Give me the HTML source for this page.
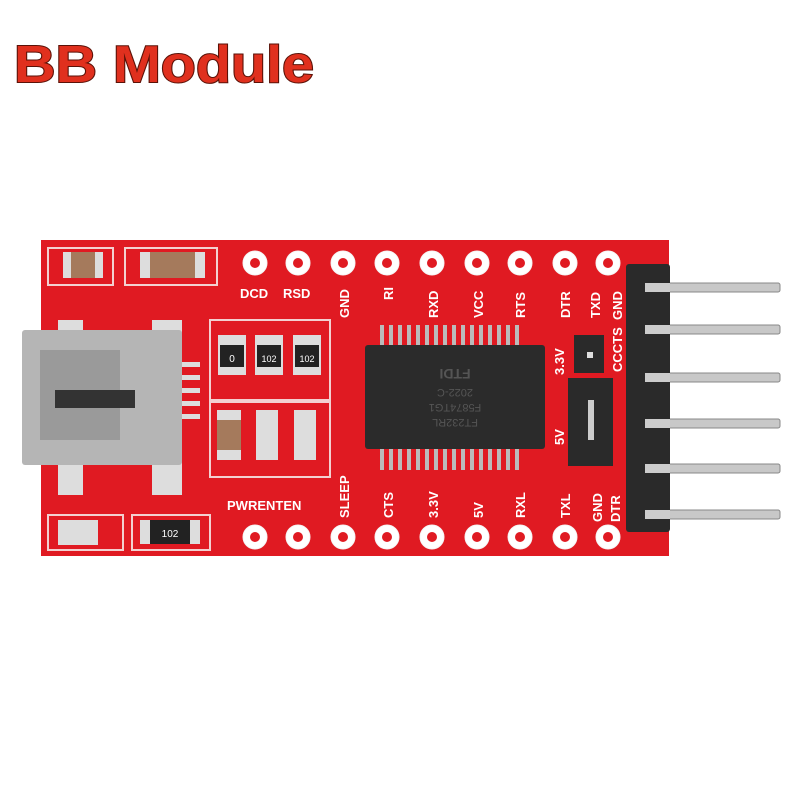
<!DOCTYPE html>
<html><head><style>
html,body{margin:0;padding:0;background:#fff;width:800px;height:800px;overflow:hidden}
</style></head><body>
<svg width="800" height="800" viewBox="0 0 800 800" xmlns="http://www.w3.org/2000/svg" font-family="Liberation Sans, sans-serif">
<rect width="800" height="800" fill="#fff"/>
<text x="14" y="82" font-size="52" font-weight="bold" fill="#e0301e" stroke="#5a1208" stroke-width="2" paint-order="stroke" textLength="300" lengthAdjust="spacingAndGlyphs">BB Module</text>
<!-- board -->
<rect x="41" y="240" width="628" height="316" fill="#e01a22"/>
<!-- pins -->
<g fill="#c8c8c8" stroke="#888" stroke-width="1">
<rect x="640" y="283" width="140" height="9" rx="2"/>
<rect x="640" y="325" width="140" height="9" rx="2"/>
<rect x="640" y="373" width="140" height="9" rx="2"/>
<rect x="640" y="419" width="140" height="9" rx="2"/>
<rect x="640" y="464" width="140" height="9" rx="2"/>
<rect x="640" y="510" width="140" height="9" rx="2"/>
</g>
<rect x="626" y="264" width="44" height="268" fill="#2a2a2a" rx="3"/>
<g fill="#ccc"><rect x="645" y="283" width="25" height="9"/><rect x="645" y="325" width="25" height="9"/><rect x="645" y="373" width="25" height="9"/><rect x="645" y="419" width="25" height="9"/><rect x="645" y="464" width="25" height="9"/><rect x="645" y="510" width="25" height="9"/></g>
<!-- holes -->
<g fill="#fff" stroke="#f5f5f5">
<circle cx="255" cy="263" r="12"/><circle cx="298" cy="263" r="12"/><circle cx="343" cy="263" r="12"/><circle cx="387" cy="263" r="12"/><circle cx="432" cy="263" r="12"/><circle cx="477" cy="263" r="12"/><circle cx="520" cy="263" r="12"/><circle cx="565" cy="263" r="12"/><circle cx="608" cy="263" r="12"/>
<circle cx="255" cy="537" r="12"/><circle cx="298" cy="537" r="12"/><circle cx="343" cy="537" r="12"/><circle cx="387" cy="537" r="12"/><circle cx="432" cy="537" r="12"/><circle cx="477" cy="537" r="12"/><circle cx="520" cy="537" r="12"/><circle cx="565" cy="537" r="12"/><circle cx="608" cy="537" r="12"/>
</g>
<g fill="#e01a22"><circle cx="255" cy="263" r="5"/><circle cx="298" cy="263" r="5"/><circle cx="343" cy="263" r="5"/><circle cx="387" cy="263" r="5"/><circle cx="432" cy="263" r="5"/><circle cx="477" cy="263" r="5"/><circle cx="520" cy="263" r="5"/><circle cx="565" cy="263" r="5"/><circle cx="608" cy="263" r="5"/>
<circle cx="255" cy="537" r="5"/><circle cx="298" cy="537" r="5"/><circle cx="343" cy="537" r="5"/><circle cx="387" cy="537" r="5"/><circle cx="432" cy="537" r="5"/><circle cx="477" cy="537" r="5"/><circle cx="520" cy="537" r="5"/><circle cx="565" cy="537" r="5"/><circle cx="608" cy="537" r="5"/></g>
<!-- silkscreen boxes -->
<g fill="none" stroke="#f3d0d0" stroke-width="2">
<rect x="48" y="248" width="65" height="37"/><rect x="125" y="248" width="92" height="37"/>
<rect x="210" y="320" width="120" height="80"/><rect x="210" y="402" width="120" height="75"/>
<rect x="48" y="515" width="75" height="35"/><rect x="132" y="515" width="78" height="35"/>
</g>
<!-- top caps -->
<rect x="63" y="252" width="40" height="26" fill="#a57a5c"/><rect x="63" y="252" width="8" height="26" fill="#ddd"/><rect x="95" y="252" width="8" height="26" fill="#ddd"/>
<rect x="140" y="252" width="65" height="26" fill="#a57a5c"/><rect x="140" y="252" width="10" height="26" fill="#ddd"/><rect x="195" y="252" width="10" height="26" fill="#ddd"/>
<!-- USB mount pads -->
<rect x="58" y="320" width="25" height="30" fill="#ddd"/><rect x="152" y="320" width="30" height="30" fill="#ddd"/>
<rect x="58" y="455" width="25" height="40" fill="#ddd"/><rect x="152" y="455" width="30" height="40" fill="#ddd"/>
<!-- USB -->
<rect x="22" y="330" width="160" height="135" fill="#b5b5b5" rx="3"/>
<rect x="40" y="350" width="80" height="90" fill="#9a9a9a"/>
<rect x="55" y="390" width="80" height="18" fill="#333"/>
<rect x="182" y="362" width="18" height="5" fill="#ddd"/><rect x="182" y="375" width="18" height="5" fill="#ddd"/><rect x="182" y="388" width="18" height="5" fill="#ddd"/><rect x="182" y="401" width="18" height="5" fill="#ddd"/><rect x="182" y="414" width="18" height="5" fill="#ddd"/>
<!-- resistors -->
<g><rect x="218" y="335" width="28" height="40" fill="#ddd"/><rect x="220" y="345" width="24" height="22" fill="#222"/>
<rect x="255" y="335" width="28" height="40" fill="#ddd"/><rect x="257" y="345" width="24" height="22" fill="#222"/>
<rect x="293" y="335" width="28" height="40" fill="#ddd"/><rect x="295" y="345" width="24" height="22" fill="#222"/></g>
<text x="232" y="362" font-size="10" fill="#fff" text-anchor="middle">0</text>
<text x="269" y="362" font-size="9" fill="#fff" text-anchor="middle">102</text>
<text x="307" y="362" font-size="9" fill="#fff" text-anchor="middle">102</text>
<rect x="217" y="410" width="24" height="50" fill="#ddd"/><rect x="217" y="420" width="24" height="30" fill="#a57a5c"/>
<rect x="256" y="410" width="22" height="50" fill="#ddd"/><rect x="294" y="410" width="22" height="50" fill="#ddd"/>
<rect x="58" y="520" width="40" height="25" fill="#ddd"/>
<rect x="140" y="520" width="60" height="24" fill="#ddd"/><rect x="150" y="520" width="40" height="24" fill="#222"/>
<text x="170" y="537" font-size="10" fill="#fff" text-anchor="middle">102</text>
<!-- chip legs -->
<g fill="#bbb">
<rect x="380" y="325" width="4" height="22"/><rect x="389" y="325" width="4" height="22"/><rect x="398" y="325" width="4" height="22"/><rect x="407" y="325" width="4" height="22"/><rect x="416" y="325" width="4" height="22"/><rect x="425" y="325" width="4" height="22"/><rect x="434" y="325" width="4" height="22"/><rect x="443" y="325" width="4" height="22"/><rect x="452" y="325" width="4" height="22"/><rect x="461" y="325" width="4" height="22"/><rect x="470" y="325" width="4" height="22"/><rect x="479" y="325" width="4" height="22"/><rect x="488" y="325" width="4" height="22"/><rect x="497" y="325" width="4" height="22"/><rect x="506" y="325" width="4" height="22"/><rect x="515" y="325" width="4" height="22"/>
<rect x="380" y="448" width="4" height="22"/><rect x="389" y="448" width="4" height="22"/><rect x="398" y="448" width="4" height="22"/><rect x="407" y="448" width="4" height="22"/><rect x="416" y="448" width="4" height="22"/><rect x="425" y="448" width="4" height="22"/><rect x="434" y="448" width="4" height="22"/><rect x="443" y="448" width="4" height="22"/><rect x="452" y="448" width="4" height="22"/><rect x="461" y="448" width="4" height="22"/><rect x="470" y="448" width="4" height="22"/><rect x="479" y="448" width="4" height="22"/><rect x="488" y="448" width="4" height="22"/><rect x="497" y="448" width="4" height="22"/><rect x="506" y="448" width="4" height="22"/><rect x="515" y="448" width="4" height="22"/>
</g>
<rect x="365" y="345" width="180" height="104" fill="#2b2b2b" rx="3"/>
<g transform="rotate(180 455 397)" fill="#555" font-size="11" text-anchor="middle"><text x="455" y="375">FT232RL</text><text x="455" y="390">F5874TG1</text><text x="455" y="405">2022-C</text><text x="455" y="425" font-weight="bold" font-size="14">FTDI</text></g>
<!-- jumper -->
<rect x="574" y="335" width="30" height="38" fill="#2a2a2a"/><rect x="587" y="352" width="6" height="6" fill="#ddd"/>
<rect x="568" y="378" width="45" height="88" fill="#2a2a2a"/><rect x="588" y="400" width="6" height="40" fill="#ccc"/>
<!-- labels -->
<g fill="#fff" font-weight="bold" font-size="13">
<text x="240" y="298">DCD</text><text x="283" y="298">RSD</text>
<text x="227" y="510">PWRENTEN</text>
</g>
<g fill="#fff" font-weight="bold" font-size="13">
<text transform="translate(349,318) rotate(-90)">GND</text>
<text transform="translate(393,300) rotate(-90)">RI</text>
<text transform="translate(438,318) rotate(-90)">RXD</text>
<text transform="translate(483,318) rotate(-90)">VCC</text>
<text transform="translate(525,318) rotate(-90)">RTS</text>
<text transform="translate(570,318) rotate(-90)">DTR</text>
<text transform="translate(600,318) rotate(-90)">TXD</text>
<text transform="translate(622,320) rotate(-90)">GND</text>
<text transform="translate(622,372) rotate(-90)">CCCTS</text>
<text transform="translate(564,375) rotate(-90)">3.3V</text>
<text transform="translate(564,445) rotate(-90)">5V</text>
<text transform="translate(349,518) rotate(-90)">SLEEP</text>
<text transform="translate(393,518) rotate(-90)">CTS</text>
<text transform="translate(438,518) rotate(-90)">3.3V</text>
<text transform="translate(483,518) rotate(-90)">5V</text>
<text transform="translate(525,518) rotate(-90)">RXL</text>
<text transform="translate(570,518) rotate(-90)">TXL</text>
<text transform="translate(602,522) rotate(-90)">GND</text>
<text transform="translate(620,522) rotate(-90)">DTR</text>
</g>
</svg>
</body></html>
